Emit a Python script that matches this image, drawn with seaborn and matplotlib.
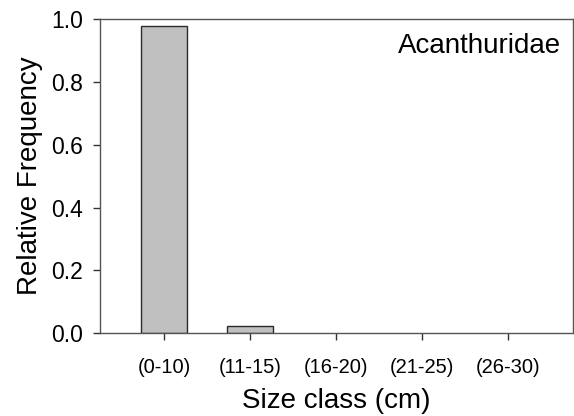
import matplotlib
matplotlib.use("Agg")
import matplotlib.pyplot as plt
import seaborn as sns
import pandas as pd

# ── Données ──────────────────────────────────────────────────
size_classes = ["(0-10)", "(11-15)", "(16-20)", "(21-25)", "(26-30)"]
rel_freq = [0.978, 0.022, 0.0, 0.0, 0.0]
family_name = "Acanthuridae"

df = pd.DataFrame({"size_class": size_classes, "freq": rel_freq})

sns.set_theme(style="ticks")
plt.rcParams["font.family"] = ["Liberation Sans", "DejaVu Sans"]
plt.rcParams["text.color"] = "black"
plt.rcParams["axes.labelcolor"] = "black"

fig = plt.figure(figsize=(5.74, 4.16), dpi=100)
ax = fig.add_axes([0.174, 0.199, 0.824, 0.755])

sns.barplot(data=df, x="size_class", y="freq", ax=ax, color="#c0c0c0",
            saturation=1, width=0.535, edgecolor="#2b2b2b", linewidth=1.0)

# les barres vides (0) ne sont pas tracées dans l'original
for p in ax.patches:
    if p.get_height() == 0:
        p.set_linewidth(0)

ax.set_xlim(-0.75, 4.75)
ax.set_ylim(0, 1.0)
ax.set_yticks([0.0, 0.2, 0.4, 0.6, 0.8, 1.0])
ax.set_yticklabels([f"{v:.1f}" for v in ax.get_yticks()], fontsize=16.5)
ax.set_xticks(range(len(size_classes)))
ax.set_xticklabels(size_classes, fontsize=14.5)

ax.set_xlabel("Size class (cm)", fontsize=20, labelpad=8)
ax.set_ylabel("Relative Frequency", fontsize=20, labelpad=6)

ax.tick_params(axis="both", direction="out", length=5, width=1, colors="#333333",
               labelcolor="black")
ax.tick_params(axis="x", pad=13)
ax.tick_params(axis="y", pad=7)
for side in ["left", "bottom", "top", "right"]:
    ax.spines[side].set_visible(True)
    ax.spines[side].set_color("#555555")
    ax.spines[side].set_linewidth(1.0)

ax.text(0.975, 0.915, family_name, transform=ax.transAxes, ha="right", va="center",
        fontsize=20, color="black")

fig.savefig("out.png", dpi=100)
